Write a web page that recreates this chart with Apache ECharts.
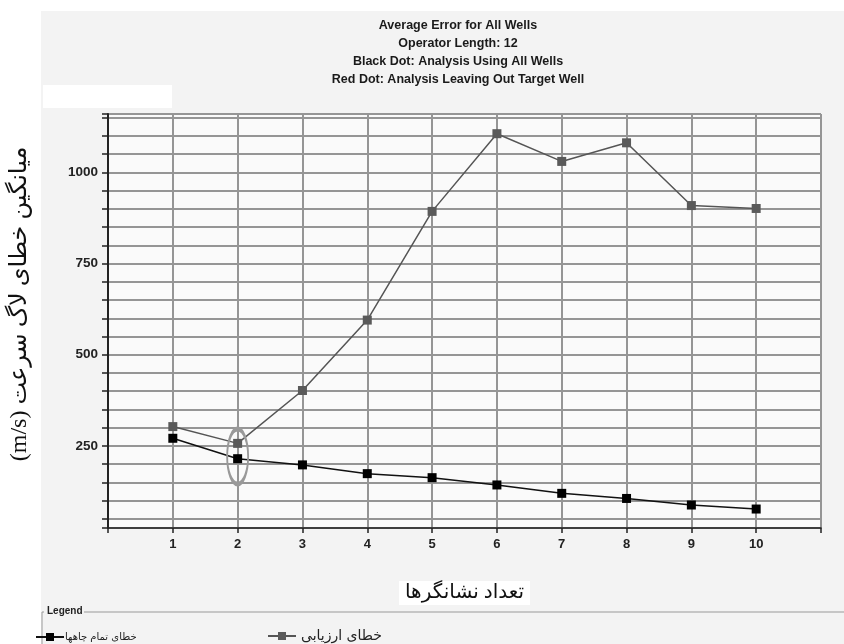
<!DOCTYPE html>
<html><head><meta charset="utf-8">
<script src="https://cdn.jsdelivr.net/npm/echarts@6/dist/echarts.min.js"></script>
<style>html,body{margin:0;padding:0;background:#fff}#c{width:844px;height:644px}</style>
</head><body><div id="c"></div>
<script>
// ---- data ----
const markerCounts = [1, 2, 3, 4, 5, 6, 7, 8, 9, 10];
const errorAllWells = [271, 215, 198, 174, 163, 143, 120, 106, 88, 77];
const errorValidation = [303, 257, 402, 595, 893, 1106, 1030, 1081, 909, 901];
const yTickLabels = [250, 500, 750, 1000];
const highlight = [2, 221];
const titleLines = ['Average Error for All Wells', 'Operator Length: 12', 'Black Dot: Analysis Using All Wells', 'Red Dot: Analysis Leaving Out Target Well'];
const nameAll = 'خطای تمام چاهها';
const nameVal = 'خطای ارزیابی';
const xName = 'تعداد نشانگرها';
const yName = '(m/s) میانگین خطای لاگ سرعت';

const chart = echarts.init(document.getElementById('c'));
const gridCol = '#959595';
chart.setOption({
  animation: false,
  backgroundColor: '#ffffff',
  graphic: [
    {type: 'rect', z: -10, shape: {x: 41, y: 11, width: 803, height: 633}, style: {fill: '#f3f3f3'}},
    {type: 'rect', z: -9, shape: {x: 43, y: 85, width: 129, height: 23}, style: {fill: '#ffffff'}},
    {type: 'rect', z: -9, shape: {x: 108, y: 114, width: 713, height: 414}, style: {fill: '#fafafa'}},
    {type: 'text', x: 458, y: 17, style: {text: titleLines.join('\n'), textAlign: 'center', fontFamily: 'Liberation Sans, Arial', fontSize: 12.5, fontWeight: 'bold', lineHeight: 18, fill: '#1a1a1a'}},
    {type: 'line', shape: {x1: 42, y1: 612, x2: 44, y2: 612}, style: {stroke: '#999', lineWidth: 1}},
    {type: 'line', shape: {x1: 84, y1: 612, x2: 844, y2: 612}, style: {stroke: '#999', lineWidth: 1}},
    {type: 'line', shape: {x1: 42, y1: 612, x2: 42, y2: 644}, style: {stroke: '#999', lineWidth: 1}},
    {type: 'text', x: 47, y: 606, style: {text: 'Legend', fontFamily: 'Liberation Sans, Arial', fontSize: 10, fontWeight: 'bold', fill: '#222'}}
  ],
  grid: {left: 108, right: 23, top: 114, bottom: 116, outerBoundsMode: 'none', containLabel: false},
  legend: [
    {data: [nameAll], left: 30, top: 627, itemWidth: 28, itemHeight: 10, align: 'left',
     textStyle: {fontFamily: 'DejaVu Sans', fontSize: 10, color: '#222', padding: [0, 0, 0, -4]}},
    {data: [nameVal], left: 262, top: 624, itemWidth: 28, itemHeight: 10, align: 'left',
     textStyle: {fontFamily: 'DejaVu Sans', fontSize: 14, color: '#222'}}
  ],
  xAxis: {
    type: 'value', min: 0, max: 11, interval: 1,
    name: xName, nameLocation: 'middle', nameGap: 53,
    nameTextStyle: {fontFamily: 'Liberation Serif, DejaVu Sans', fontSize: 20, color: '#111', backgroundColor: '#fff', padding: [2, 6, 2, 6]},
    axisLine: {lineStyle: {color: '#222', width: 1.5}},
    axisTick: {show: true, length: 5, lineStyle: {color: '#222', width: 1.5}},
    axisLabel: {margin: 10, fontFamily: 'Liberation Sans, Arial', fontSize: 13, fontWeight: 'bold', color: '#222',
      formatter: v => (markerCounts.indexOf(v) >= 0 ? String(v) : '')},
    splitLine: {show: true, lineStyle: {color: gridCol, width: 2}}
  },
  yAxis: {
    type: 'value', min: 25, max: 1160, splitNumber: 23,
    name: yName, nameLocation: 'middle', nameRotate: 90, nameGap: 76,
    nameTextStyle: {fontFamily: 'Liberation Serif, DejaVu Sans', fontSize: 24, color: '#111', padding: [0, 0, 0, 34]},
    axisLine: {show: true, lineStyle: {color: '#222', width: 2}},
    axisTick: {show: true, length: 6, lineStyle: {color: '#222', width: 1.5}},
    axisLabel: {margin: 10, fontFamily: 'Liberation Sans, Arial', fontSize: 13.5, fontWeight: 'bold', color: '#222',
      formatter: v => (yTickLabels.indexOf(v) >= 0 ? String(v) : '')},
    splitLine: {show: true, lineStyle: {color: gridCol, width: 2}}
  },
  series: [
    {name: nameAll, type: 'line', data: markerCounts.map((x, i) => [x, errorAllWells[i]]),
     symbol: 'rect', symbolSize: 9, z: 3,
     lineStyle: {color: '#111', width: 1.5}, itemStyle: {color: '#000'}},
    {name: nameVal, type: 'line', data: markerCounts.map((x, i) => [x, errorValidation[i]]),
     symbol: 'rect', symbolSize: 9, z: 2,
     lineStyle: {color: '#555', width: 1.5}, itemStyle: {color: '#5a5a5a'},
     markPoint: {symbol: 'circle', symbolSize: [21, 55], silent: true, label: {show: false},
       itemStyle: {color: 'rgba(0,0,0,0)', borderColor: '#999', borderWidth: 3},
       data: [{coord: highlight}]}}
  ]
});
</script></body></html>
